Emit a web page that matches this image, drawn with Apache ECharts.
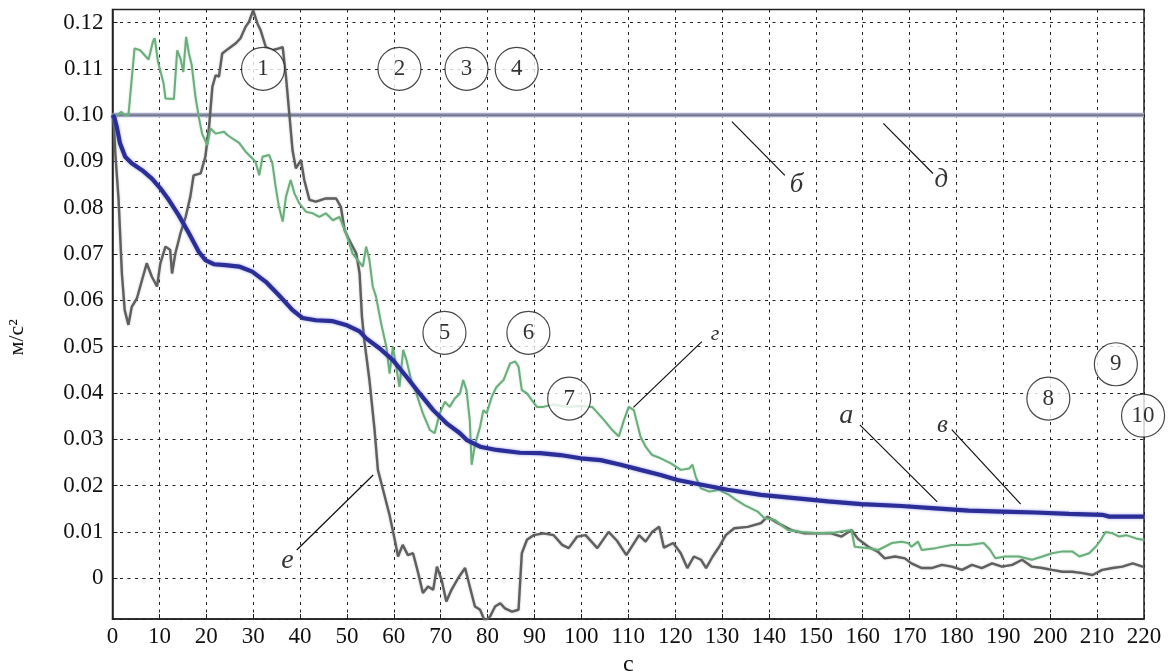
<!DOCTYPE html>
<html>
<head>
<meta charset="utf-8">
<script src="https://cdn.jsdelivr.net/npm/echarts@6/dist/echarts.min.js"></script>
<style>
  html, body { margin: 0; padding: 0; background: #fff; }
  #chart { width: 1169px; height: 671px; }
</style>
</head>
<body>
<div id="chart"></div>
<script>
// Time axis, seconds
const xTicks = [0, 220, 10];

// г: green trace
const greenT = [0, 1, 1.9, 2.6, 3.4, 4.7, 5.9, 7.7, 8.6, 9.0, 9.7, 10.9, 11.3, 13.1, 13.8, 14.5, 15.1, 15.7, 16.3, 16.9, 17.7, 18.4, 19.1, 20.2, 20.9, 22, 23.8, 24.5, 25.5, 27, 28.4, 29.8, 30.5, 31.3, 32, 33.4, 34.1, 34.8, 35.5, 36.3, 37, 38, 38.8, 39.8, 41.3, 42.7, 44.1, 45.5, 47, 48.4, 49.8, 51.2, 52.3, 53.4, 54.1, 54.8, 55.5, 56.2, 57.3, 58.4, 59.1, 59.8, 60.5, 61.2, 62, 62.7, 63.7, 64.8, 66.2, 67.7, 68.7, 69.8, 70.9, 71.9, 73, 74.1, 74.8, 75.5, 76.2, 76.6, 77.3, 78.4, 79.1, 79.8, 80.9, 81.9, 83.4, 84.8, 85.9, 86.6, 87.3, 88.4, 89.4, 90.5, 91.9, 94, 97, 100, 102.3, 104.8, 106.6, 108, 109.1, 110.1, 111.2, 112.6, 113.7, 115.1, 116.9, 119.1, 121.2, 123, 123.7, 124.4, 125.5, 127.3, 129.4, 131.5, 133, 134.8, 136.2, 137.6, 139, 141.2, 144, 146.9, 150.5, 154, 157.6, 158.3, 161.2, 163.3, 164.7, 166.2, 168.3, 169.7, 170.4, 171.8, 172.6, 175.5, 179, 182.6, 185.8, 187.2, 188.3, 190.4, 193.3, 196.1, 198.3, 200.4, 202.6, 204.7, 206.2, 208.3, 209.7, 210.8, 211.8, 213.3, 214.7, 216.2, 218.3, 219.7, 220];
const greenV = [0.1, 0.1, 0.1007, 0.1, 0.1, 0.1144, 0.114, 0.112, 0.1158, 0.1166, 0.1115, 0.1068, 0.1036, 0.1035, 0.114, 0.1122, 0.1093, 0.1169, 0.1133, 0.1108, 0.1039, 0.0996, 0.096, 0.0935, 0.0971, 0.096, 0.0964, 0.0957, 0.095, 0.094, 0.0921, 0.0907, 0.0899, 0.087, 0.091, 0.0914, 0.0896, 0.0845, 0.0802, 0.077, 0.0824, 0.086, 0.0831, 0.081, 0.0791, 0.0788, 0.078, 0.0788, 0.0773, 0.078, 0.0745, 0.0701, 0.0687, 0.0673, 0.0716, 0.0687, 0.063, 0.0608, 0.055, 0.05, 0.0442, 0.05, 0.0457, 0.0413, 0.0493, 0.0471, 0.0428, 0.0399, 0.0356, 0.032, 0.0313, 0.0356, 0.0381, 0.037, 0.0388, 0.0399, 0.0428, 0.0406, 0.0341, 0.0245, 0.0288, 0.0327, 0.0363, 0.0356, 0.0392, 0.0413, 0.0428, 0.0464, 0.0468, 0.0457, 0.0406, 0.0399, 0.0385, 0.037, 0.037, 0.0375, 0.037, 0.0372, 0.037, 0.0342, 0.032, 0.0306, 0.0342, 0.037, 0.0363, 0.0306, 0.0284, 0.0266, 0.0259, 0.0248, 0.0234, 0.0237, 0.0245, 0.0219, 0.0194, 0.0187, 0.0191, 0.018, 0.0169, 0.0158, 0.0151, 0.0144, 0.013, 0.0126, 0.0104, 0.01, 0.0097, 0.0099, 0.0104, 0.0068, 0.0065, 0.0061, 0.0068, 0.0076, 0.0079, 0.0076, 0.0068, 0.0079, 0.0061, 0.0065, 0.0072, 0.0072, 0.0076, 0.0061, 0.0043, 0.0047, 0.0047, 0.004, 0.0047, 0.0054, 0.0058, 0.0058, 0.0047, 0.0054, 0.0068, 0.0083, 0.01, 0.0097, 0.009, 0.0093, 0.0086, 0.0083, 0.0083];

// е: grey trace
const greyT = [0, 0.3, 0.6, 1.3, 2, 2.6, 3.4, 4.1, 5.2, 6.3, 7.3, 8.4, 9.5, 10.2, 11.3, 12.3, 12.7, 13.4, 14.5, 15.6, 16.6, 17.3, 18.8, 19.8, 20.6, 21.3, 22, 22.7, 23.4, 24.8, 26.3, 27.3, 28.4, 29.1, 30, 30.9, 31.6, 32.7, 34.1, 35.5, 36.3, 37, 37.7, 38.4, 39.1, 40.2, 40.9, 42, 43.4, 45.5, 47.7, 48.7, 49.5, 50.5, 52, 52.7, 53.2, 53.7, 54.8, 55.9, 56.6, 57.7, 59.1, 60.2, 60.9, 61.9, 63, 64.1, 65.2, 66.2, 67.3, 68.4, 69.2, 70.2, 71.2, 72.3, 73.7, 75.2, 76.2, 77.3, 78.4, 79.4, 80.5, 81.6, 82.7, 83.7, 85.2, 86.6, 87.3, 88.4, 89.8, 91.9, 94.1, 95.9, 97.3, 99.1, 100.9, 103.4, 105.8, 107.6, 109.6, 111.5, 112.3, 113.7, 115.1, 116.6, 117.6, 119.6, 121.2, 122.6, 124, 125.5, 126.6, 128, 129.4, 130.8, 132.6, 135.5, 138.3, 139.7, 141.9, 144.8, 147.6, 150.5, 153.3, 155.5, 157.6, 159, 161.2, 163.3, 164.7, 166.9, 169, 170.4, 172.6, 174.7, 176.9, 179, 181.2, 183.3, 185.4, 187.6, 189.7, 191.9, 194, 196.1, 198.3, 200.4, 202.6, 204.7, 206.9, 209, 211.1, 213.3, 215.4, 217.6, 219.7, 220];
const greyV = [0.1, 0.098, 0.0917, 0.0817, 0.0658, 0.0579, 0.0547, 0.0586, 0.0604, 0.0644, 0.068, 0.0651, 0.063, 0.068, 0.0716, 0.0709, 0.0658, 0.0701, 0.0745, 0.078, 0.0824, 0.087, 0.0874, 0.091, 0.0975, 0.1061, 0.1086, 0.1083, 0.1133, 0.1144, 0.1155, 0.1166, 0.1191, 0.1201, 0.1226, 0.1198, 0.1183, 0.1147, 0.114, 0.1144, 0.1147, 0.1083, 0.1004, 0.0924, 0.0885, 0.0903, 0.086, 0.0817, 0.0813, 0.082, 0.082, 0.0802, 0.0752, 0.073, 0.0701, 0.0658, 0.0565, 0.0514, 0.0428, 0.032, 0.0234, 0.0191, 0.0136, 0.0083, 0.0047, 0.0072, 0.005, 0.0054, 0.0011, -0.0032, -0.0018, -0.0025, 0.0025, -0.0004, -0.005, -0.0025, 0, 0.0022, -0.0018, -0.0061, -0.0068, -0.0092, -0.0083, -0.0061, -0.0054, -0.0065, -0.0072, -0.0068, 0.0054, 0.0083, 0.0093, 0.0097, 0.0093, 0.0072, 0.0065, 0.009, 0.0093, 0.0065, 0.01, 0.0081, 0.005, 0.008, 0.0093, 0.0079, 0.01, 0.0111, 0.0066, 0.0076, 0.0054, 0.0022, 0.0047, 0.004, 0.0022, 0.0047, 0.0068, 0.0093, 0.0108, 0.0111, 0.0119, 0.0133, 0.0119, 0.0104, 0.0097, 0.0097, 0.0097, 0.009, 0.0104, 0.0085, 0.0068, 0.0057, 0.0043, 0.0047, 0.0043, 0.0032, 0.0022, 0.0022, 0.0029, 0.0025, 0.0018, 0.0029, 0.0022, 0.0032, 0.0025, 0.0029, 0.004, 0.0025, 0.0022, 0.0018, 0.0014, 0.0014, 0.0011, 0.0007, 0.0018, 0.0022, 0.0025, 0.0032, 0.0025, 0.0025];

// а, в: smooth blue trace
const blueT = [0, 0.4, 0.9, 1.6, 2.7, 4.1, 6.3, 8.4, 10.2, 12, 14.1, 16.3, 18.4, 19.8, 21.6, 24.1, 27, 29.8, 32.7, 35.5, 38.4, 40.5, 43.4, 47, 49.8, 52.7, 54.1, 57, 59.8, 62.7, 65.5, 68.4, 71.2, 74.1, 75.5, 78.4, 81.9, 86.9, 91.2, 95.5, 99.8, 104.1, 108.4, 112.6, 116.9, 120.5, 124, 131.2, 138.3, 145.5, 152.6, 159.7, 168.3, 175.5, 182.6, 189.7, 196.8, 204, 211.1, 212.6, 220];
const blueV = [0.1, 0.0995, 0.0975, 0.0939, 0.091, 0.0896, 0.0881, 0.0863, 0.0842, 0.0817, 0.0784, 0.0745, 0.0705, 0.0687, 0.0678, 0.0676, 0.0673, 0.0662, 0.064, 0.0611, 0.0579, 0.0562, 0.0557, 0.0555, 0.0547, 0.0533, 0.0518, 0.0496, 0.0471, 0.0435, 0.0399, 0.0363, 0.0335, 0.0313, 0.0299, 0.0284, 0.0277, 0.0271, 0.027, 0.0266, 0.0259, 0.0255, 0.0245, 0.0234, 0.0223, 0.0212, 0.0205, 0.0191, 0.018, 0.0173, 0.0166, 0.016, 0.0156, 0.0151, 0.0146, 0.0144, 0.0142, 0.0139, 0.0137, 0.0133, 0.0133];

// б, д: constant reference level
const levelT = [0, 220];
const levelV = [0.1, 0.1];

// numbered markers
const circleNums = ['1', '2', '3', '4', '5', '6', '7', '8', '9', '10'];
const circleT = [32.1, 61.2, 75.5, 86.2, 70.8, 88.7, 97.4, 199.6, 214.0, 219.8];
const circleV = [0.11, 0.11, 0.11, 0.11, 0.053, 0.053, 0.0388, 0.0388, 0.0462, 0.0351];

// curve letters and their leader lines
const letterText = ['а', 'б', 'в', 'г', 'д', 'е'];
const letterT = [156.5, 145.9, 177.0, 128.5, 176.8, 37.3];
const letterV = [0.0352, 0.0849, 0.0331, 0.0527, 0.086, 0.0039];
const letterSize = [28, 27, 25, 22, 27, 28];
const leaderFrom = [[159.4, 0.0331], [132.1, 0.0986], [179.0, 0.0321], [111.1, 0.0369], [164.4, 0.0982], [39.3, 0.0061]];
const leaderTo = [[175.9, 0.0165], [143.4, 0.087], [193.7, 0.016], [125.7, 0.0511], [175.0, 0.0874], [55.6, 0.0223]];

const FONT = '"Liberation Serif", "DejaVu Serif", serif';
const zip = (a, b) => a.map((v, i) => [v, b[i]]);

const chart = echarts.init(document.getElementById('chart'), null, { renderer: 'canvas' });

const gridLine = { show: true, lineStyle: { color: '#222', width: 1, type: [3, 4.5] } };

// plain text placed at data positions (numbers inside circles, curve letters)
function textSeries(name, texts, ts, vs, style, z) {
  return {
    name, type: 'scatter', symbolSize: 1, clip: false, z, silent: true,
    itemStyle: { color: 'rgba(0,0,0,0)' },
    data: texts.map((s, i) => ({
      value: [ts[i], vs[i]],
      label: Object.assign({ show: true, position: 'inside', formatter: s, color: '#000',
        fontFamily: FONT, textBorderWidth: 0 }, style(i))
    }))
  };
}

chart.setOption({
  animation: false,
  backgroundColor: '#ffffff',
  grid: {
    left: 112.5, right: 25, top: 9.5, bottom: 52,
    outerBoundsMode: 'none', containLabel: false,
    show: true, borderColor: '#222', borderWidth: 1.5, backgroundColor: 'transparent'
  },
  xAxis: {
    type: 'value',
    min: xTicks[0], max: xTicks[1], interval: xTicks[2],
    name: 'с', nameLocation: 'middle', nameGap: 28,
    nameTextStyle: { fontFamily: FONT, fontSize: 24, color: '#111' },
    axisLine: { show: true, onZero: false, lineStyle: { color: '#222', width: 1.5 } },
    axisTick: { show: true, inside: true, length: 5, lineStyle: { color: '#222' } },
    axisLabel: { fontFamily: FONT, fontSize: 23, color: '#111', margin: 6 },
    splitLine: gridLine
  },
  yAxis: {
    type: 'value',
    min: -0.0088, max: 0.1228, splitNumber: 13,
    name: 'м/с²', nameLocation: 'middle', nameGap: 84, nameRotate: 90,
    nameTextStyle: { fontFamily: FONT, fontSize: 22, color: '#111', padding: [0, 46, 0, 0] },
    axisLine: { show: true, onZero: false, lineStyle: { color: '#222', width: 1.5 } },
    axisTick: { show: true, inside: true, length: 5, lineStyle: { color: '#222' } },
    axisLabel: {
      fontFamily: FONT, fontSize: 23, color: '#111', margin: 9,
      showMinLabel: false, showMaxLabel: false,
      formatter: v => Math.abs(v) < 1e-9 ? '0' : v.toFixed(2)
    },
    splitLine: gridLine
  },
  series: [
    {
      name: 'д', type: 'line', data: zip(levelT, levelV), showSymbol: false, z: 3,
      lineStyle: { color: '#a4a6c4', width: 4.5 }
    },
    {
      name: 'б', type: 'line', data: zip(levelT, levelV), showSymbol: false, z: 3,
      lineStyle: { color: '#66687a', width: 1.3 }
    },
    {
      name: 'е', type: 'line', data: zip(greyT, greyV), showSymbol: false, z: 4,
      lineStyle: { color: '#5e605e', width: 2.4, shadowColor: 'rgba(120,120,120,0.5)', shadowBlur: 2 }
    },
    {
      name: 'г', type: 'line', data: zip(greenT, greenV), showSymbol: false, z: 5,
      lineStyle: { color: '#6aae7c', width: 2, shadowColor: 'rgba(120,190,140,0.5)', shadowBlur: 2 }
    },
    {
      name: 'а', type: 'line', data: zip(blueT, blueV), showSymbol: false, z: 6,
      lineStyle: { color: '#2c2e98', width: 4.2, shadowColor: 'rgba(110,110,220,0.7)', shadowBlur: 3 }
    },
    {
      name: 'leaders', type: 'lines', coordinateSystem: 'cartesian2d', z: 7,
      symbol: 'none',
      lineStyle: { color: '#111', width: 1.2, opacity: 1, curveness: 0 },
      data: leaderFrom.map((p, i) => ({ coords: [p, leaderTo[i]] }))
    },
    textSeries('letters', letterText, letterT, letterV,
      i => ({ fontStyle: 'italic', fontSize: letterSize[i] }), 8),
    {
      name: 'markers', type: 'scatter', symbol: 'circle', symbolSize: 43, clip: false, z: 9,
      silent: true,
      itemStyle: { color: '#fff', borderColor: '#1a1a1a', borderWidth: 1.2 },
      data: zip(circleT, circleV)
    },
    textSeries('markerNumbers', circleNums, circleT, circleV, () => ({ fontSize: 23 }), 10)
  ]
});
</script>
</body>
</html>
